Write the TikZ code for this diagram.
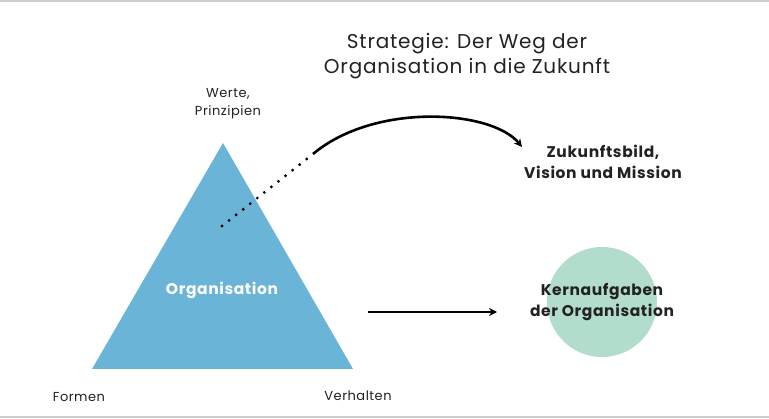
\documentclass[tikz,border=0pt]{standalone}
\usepackage{fontspec}
\setmainfont{Poppins}[LetterSpace=4]
\usetikzlibrary{arrows.meta}
\definecolor{triblue}{HTML}{6AB4D8}
\definecolor{circgreen}{HTML}{B2DCCB}
\definecolor{txtdark}{HTML}{222222}
\definecolor{framegrey}{HTML}{CCCCCC}
\begin{document}
\begin{tikzpicture}[x=1pt,y=1pt,
  lbl/.style={text=txtdark,font=\fontsize{13}{18}\selectfont,align=center,inner sep=0pt},
  boldlbl/.style={text=txtdark,font=\fontsize{15.5}{21}\selectfont\bfseries,align=center,inner sep=0pt},
  titlelbl/.style={text=txtdark,font=\fontsize{20}{25}\selectfont,align=center,inner sep=0pt},
  arrowline/.style={line width=2.6pt,-{Stealth[length=8pt,width=8pt]}},
  dotline/.style={line width=3.2pt,line cap=round,dash pattern=on 0pt off 9pt}]
\useasboundingbox (0,0) rectangle (769,418);
\fill[white] (0,0) rectangle (769,418);
\draw[framegrey,line width=1.5pt] (0,417) -- (769,417);
\draw[framegrey,line width=1.5pt] (0,1) -- (769,1);
% triangle
\coordinate (apex) at (223,275);
\coordinate (bl) at (92,49);
\coordinate (br) at (353,49);
\fill[triblue] (apex) -- (br) -- (bl) -- cycle;
\node[boldlbl,text=white] (org) at (222,128) {Organisation};
% circle
\node[circle,fill=circgreen,minimum size=110pt,inner sep=0pt] (circ) at (602,116) {};
\node[boldlbl] (kern) at (602,116) {Kernaufgaben\\der Organisation};
% labels
\node[titlelbl] (title) at (467,362) {Strategie: Der Weg der\\Organisation in die Zukunft};
\node[lbl] (werte) at (228,314) {Werte,\\Prinzipien};
\node[lbl] (formen) at (79,21) {Formen};
\node[lbl] (verh) at (358,22) {Verhalten};
\node[boldlbl] (zuk) at (603,256) {Zukunftsbild,\\Vision und Mission};
% connectors
\coordinate (dotstart) at (222,192);
\coordinate (dotend) at (313,264);
\coordinate (tip) at (522,271);
\draw[dotline] (dotstart) -- (dotend);
\draw[arrowline] (dotend) .. controls (375,316) and (492,308) .. (tip);
\coordinate (hstart) at (368,106);
\coordinate (hend) at (497,106);
\draw[arrowline] (hstart) -- (hend);
\end{tikzpicture}
\end{document}
